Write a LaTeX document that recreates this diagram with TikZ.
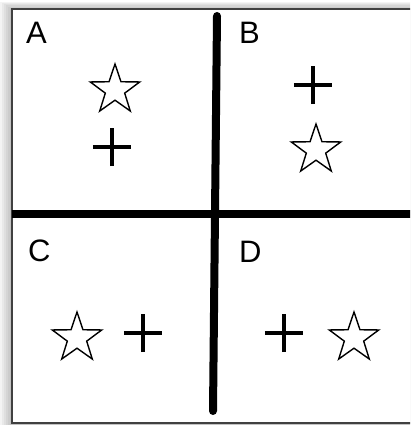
\documentclass[tikz,border=0pt]{standalone}
\usepackage{fontspec}
\setmainfont{Liberation Sans}
\usetikzlibrary{shapes.geometric,shapes.misc}

\begin{document}
\begin{tikzpicture}[x=1pt,y=-1pt,
    quadlabel/.style={anchor=base west,inner sep=0pt,font=\fontsize{31}{31}\selectfont},
    hollowstar/.style={star,star points=5,star point ratio=2.55,draw,fill=white,
      line width=1.4pt,minimum size=52pt,inner sep=0pt},
    plusmark/.style={cross out,draw,rotate=45,line width=4pt,minimum size=23pt,inner sep=0pt},
    divider/.style={line width=8pt,line cap=round}]
  \useasboundingbox (0,0) rectangle (410,425);
  \clip (0,0) rectangle (410,425);
  %% shadow and frame ------
  \foreach \d in {2,4,...,12}
    \fill[black,opacity=0.045] (12-\d,9-0.6*\d) rectangle (420,430);
  \draw[line width=2pt,draw=black!75,fill=white] (12,9) rectangle (414,423);
  %% dividers ------
  \coordinate (vtop) at (217,16);
  \coordinate (vbot) at (213,411);
  \coordinate (hleft) at (12,214);
  \coordinate (hright) at (414,214);
  \draw[divider,line cap=butt] (hleft) -- (hright);
  \draw[divider] (vtop) -- (vbot);
  %% labels ------
  \node[quadlabel] (labA) at (26,44) {A};
  \node[quadlabel] (labB) at (239,44) {B};
  \node[quadlabel] (labC) at (28,261) {C};
  \node[quadlabel] (labD) at (239,262) {D};
  %% stars and pluses ------
  \node[hollowstar] (starA) at (115,90) {};
  \node[plusmark] (plusA) at (112,147) {};
  \node[plusmark] (plusB) at (313,85) {};
  \node[hollowstar] (starB) at (316,150) {};
  \node[hollowstar] (starC) at (77,338) {};
  \node[plusmark] (plusC) at (143,333) {};
  \node[plusmark] (plusD) at (284,333) {};
  \node[hollowstar] (starD) at (354,338) {};
\end{tikzpicture}
\end{document}
